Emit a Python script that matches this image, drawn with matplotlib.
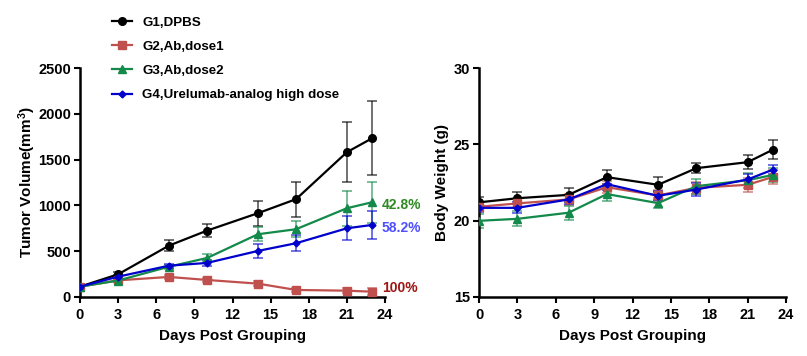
import matplotlib
matplotlib.use("Agg")
import matplotlib.pyplot as plt

plt.rcParams['font.family'] = ['Liberation Sans', 'DejaVu Sans']
plt.rcParams['font.weight'] = 'bold'
plt.rcParams['mathtext.fontset'] = 'custom'
plt.rcParams['mathtext.rm'] = 'Liberation Sans:bold'
plt.rcParams['mathtext.bf'] = 'Liberation Sans:bold'
plt.rcParams['mathtext.default'] = 'bf'

days = [0, 3, 7, 10, 14, 17, 21, 23]
groups = ["G1,DPBS", "G2,Ab,dose1", "G3,Ab,dose2", "G4,Urelumab-analog high dose"]
colors = ["#000000", "#C0504D", "#13894A", "#0000CC"]
markers = ["o", "s", "^", "D"]
msizes = [5.5, 5.5, 5.5, 3.5]

tv_g1 = [113, 248, 561, 725, 915, 1068, 1581, 1734]
tv_g2 = [113, 182, 219, 186, 146, 77, 69, 58]
tv_g3 = [113, 180, 331, 426, 685, 740, 969, 1035]
tv_g4 = [113, 222, 342, 372, 503, 587, 750, 787]
tv_e1 = [15, 20, 60, 70, 135, 190, 330, 405]
tv_e2 = [15, 15, 25, 20, 25, 20, 30, 35]
tv_e3 = [15, 15, 20, 40, 75, 90, 190, 225]
tv_e4 = [15, 15, 20, 30, 75, 85, 130, 155]

bw_g1 = [21.2, 21.47, 21.69, 22.85, 22.35, 23.44, 23.83, 24.66]
bw_g2 = [20.91, 21.13, 21.39, 22.19, 21.65, 22.15, 22.35, 22.87]
bw_g3 = [19.99, 20.12, 20.52, 21.74, 21.15, 22.26, 22.65, 23.0]
bw_g4 = [20.84, 20.84, 21.39, 22.39, 21.63, 22.04, 22.7, 23.35]
bw_e1 = [0.35, 0.4, 0.45, 0.45, 0.5, 0.35, 0.45, 0.65]
bw_e2 = [0.3, 0.3, 0.35, 0.4, 0.35, 0.4, 0.45, 0.45]
bw_e3 = [0.45, 0.5, 0.45, 0.45, 0.35, 0.5, 0.5, 0.45]
bw_e4 = [0.3, 0.35, 0.3, 0.35, 0.3, 0.4, 0.35, 0.3]

tgi_labels = ["42.8%", "58.2%", "100%"]
tgi_colors = ["#2E8B22", "#5050FF", "#A01414"]
tgi_dy = [-2, -2, 3]

tv = [tv_g1, tv_g2, tv_g3, tv_g4]
tve = [tv_e1, tv_e2, tv_e3, tv_e4]
bw = [bw_g1, bw_g2, bw_g3, bw_g4]
bwe = [bw_e1, bw_e2, bw_e3, bw_e4]

fig = plt.figure(figsize=(8.07, 3.56), dpi=100)
ax1 = fig.add_axes([80/807, 59/356, 305/807, 229/356])
ax2 = fig.add_axes([479/807, 59/356, 307/807, 229/356])


def style(ax):
    for s in ['top', 'right']:
        ax.spines[s].set_visible(False)
    for s in ['left', 'bottom']:
        ax.spines[s].set_linewidth(1.8)
    ax.tick_params(width=1.5, length=4.5, labelsize=10.5)
    ax.tick_params(axis='x', pad=3.5)
    ax.tick_params(axis='y', pad=2)
    for lab in ax.get_xticklabels() + ax.get_yticklabels():
        lab.set_fontweight('bold')
    ax.set_xlim(0, 24)
    ax.set_xticks(range(0, 25, 3))
    ax.set_xlabel("Days Post Grouping", fontsize=11, fontweight='bold', labelpad=5)


handles = []
for i in range(4):
    ax1.errorbar(days, tv[i], yerr=tve[i], fmt='none', ecolor=colors[i], alpha=0.6,
                 elinewidth=1.3, capsize=3.5, capthick=1.3, zorder=2)
    h, = ax1.plot(days, tv[i], color=colors[i], marker=markers[i], markersize=msizes[i],
                  linewidth=1.6, label=groups[i], zorder=3)
    handles.append(h)
    ax2.errorbar(days, bw[i], yerr=bwe[i], fmt='none', ecolor=colors[i], alpha=0.6,
                 elinewidth=1.3, capsize=3.5, capthick=1.3, zorder=2)
    ax2.plot(days, bw[i], color=colors[i], marker=markers[i], markersize=msizes[i],
             linewidth=1.6, zorder=3)

ax1.set_ylim(0, 2500)
ax1.set_yticks(range(0, 2501, 500))
style(ax1)
ax1.set_ylabel(r"Tumor Volume(mm$^{3}$)", fontsize=11, fontweight='bold', labelpad=0)

# TGI annotations next to the final point of each treated group
for txt, col, grp, dy in zip(tgi_labels, tgi_colors, [tv_g3, tv_g4, tv_g2], tgi_dy):
    ax1.annotate(txt, xy=(days[-1], grp[-1]), xytext=(7, dy), textcoords='offset points',
                 color=col, fontsize=10, fontweight='bold', va='center', ha='left',
                 annotation_clip=False)

ax2.set_ylim(15, 30)
ax2.set_yticks([15, 20, 25, 30])
style(ax2)
ax2.set_ylabel("Body Weight (g)", fontsize=11, fontweight='bold', labelpad=3)

leg = fig.legend(handles=handles, loc='upper left', bbox_to_anchor=(107/807, 1 - 11/356),
                 frameon=False, fontsize=9.6, handlelength=1.45, labelspacing=0.89,
                 handletextpad=0.8, borderaxespad=0)
for t in leg.get_texts():
    t.set_fontweight('bold')

fig.savefig("out.png", dpi=100)
